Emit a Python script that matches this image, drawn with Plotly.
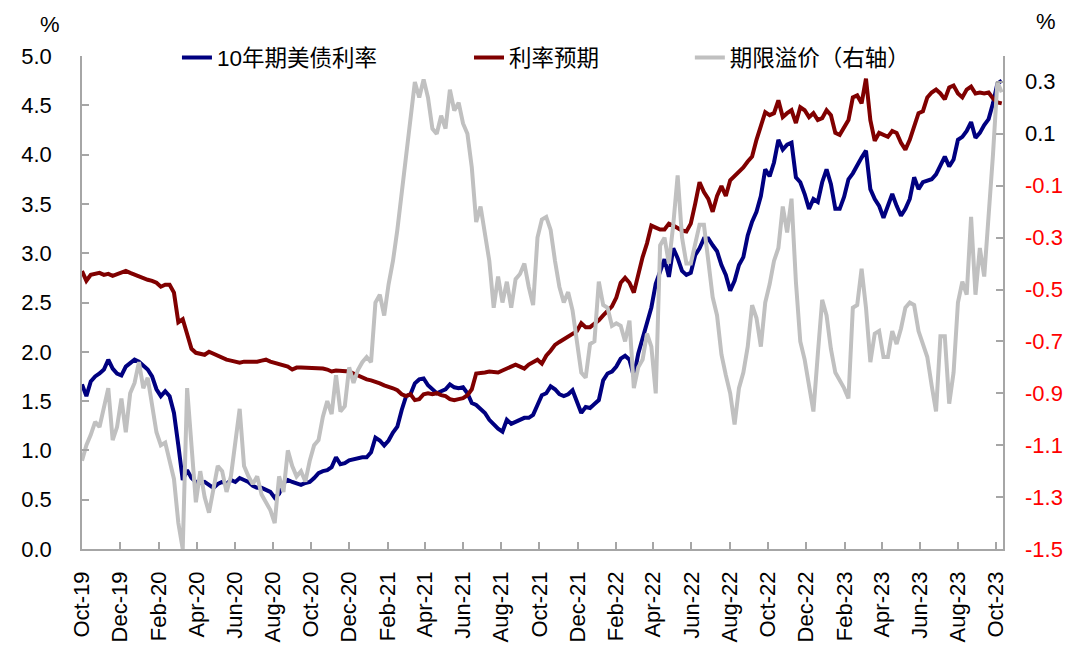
import pandas as pd
import plotly.graph_objects as go

# ---------------- data (weekly) ----------------
DATES = pd.date_range("2019-10-01", periods=211, freq="7D")

UST10Y = [
    1.67, 1.55, 1.70, 1.75, 1.78, 1.82, 1.92, 1.83, 1.78, 1.76,
    1.85, 1.88, 1.92, 1.90, 1.86, 1.82, 1.75, 1.62, 1.55, 1.60,
    1.55, 1.38, 1.05, 0.70, 0.80, 0.72, 0.68, 0.67, 0.68, 0.65,
    0.62, 0.66, 0.68, 0.66, 0.70, 0.68, 0.72, 0.70, 0.68, 0.64,
    0.62, 0.62, 0.60, 0.58, 0.52, 0.56, 0.67, 0.70, 0.68, 0.66,
    0.65, 0.67, 0.68, 0.72, 0.77, 0.79, 0.80, 0.83, 0.93, 0.86,
    0.87, 0.90, 0.91, 0.93, 0.93, 0.93, 0.98, 1.13, 1.10, 1.05,
    1.10, 1.18, 1.24, 1.41, 1.55, 1.57, 1.68, 1.72, 1.73, 1.66,
    1.62, 1.58, 1.60, 1.62, 1.67, 1.64, 1.63, 1.64, 1.58, 1.48,
    1.46, 1.42, 1.38, 1.31, 1.26, 1.22, 1.19, 1.31, 1.27, 1.29,
    1.31, 1.33, 1.33, 1.36, 1.46, 1.56, 1.58, 1.65, 1.62, 1.57,
    1.55, 1.57, 1.61, 1.48, 1.38, 1.44, 1.43, 1.47, 1.51, 1.71,
    1.78, 1.80, 1.85, 1.93, 1.96, 1.92, 1.75, 1.98, 2.15, 2.30,
    2.45, 2.69, 2.82, 2.94, 2.76, 3.05, 2.95, 2.82, 2.78, 2.80,
    2.98, 3.05, 3.15, 3.15, 3.08, 3.02, 2.88, 2.78, 2.62, 2.72,
    2.88, 2.96, 3.18, 3.32, 3.42, 3.58, 3.85, 3.78, 3.92, 4.15,
    4.05, 4.10, 4.12, 3.77, 3.72, 3.60, 3.45, 3.55, 3.52, 3.72,
    3.85, 3.70, 3.45, 3.45, 3.57, 3.75, 3.81, 3.90, 3.97, 4.04,
    3.65, 3.55, 3.48, 3.36, 3.48, 3.60, 3.48, 3.38, 3.45, 3.55,
    3.77, 3.65, 3.72, 3.74, 3.75, 3.80, 3.88, 3.98, 3.88, 3.95,
    4.15, 4.18, 4.24, 4.33, 4.17, 4.22, 4.30, 4.36, 4.52, 4.72,
    4.75,
]

RATE_EXPECTATION = [
    2.82, 2.72, 2.78, 2.79, 2.80, 2.78, 2.79, 2.77, 2.79, 2.80,
    2.82, 2.80, 2.78, 2.76, 2.74, 2.73, 2.72, 2.70, 2.66, 2.68,
    2.68, 2.60, 2.30, 2.33, 2.18, 2.03, 1.99, 1.98, 1.97, 2.00,
    1.98, 1.95, 1.93, 1.92, 1.91, 1.90, 1.89, 1.90, 1.90, 1.89,
    1.90, 1.91, 1.92, 1.90, 1.89, 1.88, 1.87, 1.85, 1.82, 1.84,
    1.84, 1.84, 1.84, 1.84, 1.84, 1.83, 1.82, 1.80, 1.81, 1.81,
    1.80, 1.80, 1.78, 1.76, 1.73, 1.72, 1.71, 1.70, 1.68, 1.66,
    1.65, 1.63, 1.61, 1.57, 1.55, 1.57, 1.51, 1.52, 1.57, 1.58,
    1.57, 1.58, 1.56, 1.55, 1.52, 1.51, 1.52, 1.53, 1.56, 1.62,
    1.78, 1.78, 1.79, 1.80, 1.80, 1.79, 1.81, 1.83, 1.86, 1.87,
    1.85, 1.83, 1.87, 1.90, 1.92, 1.88, 1.96, 2.01, 2.07, 2.10,
    2.13, 2.16, 2.18, 2.21, 2.29, 2.25, 2.25, 2.28, 2.32, 2.37,
    2.42, 2.46, 2.55, 2.70, 2.75, 2.70, 2.60, 2.80, 2.96, 3.10,
    3.28, 3.26, 3.24, 3.24, 3.30, 3.28, 3.25, 3.23, 3.22, 3.30,
    3.50, 3.72, 3.62, 3.55, 3.42, 3.58, 3.68, 3.58, 3.74, 3.78,
    3.82, 3.87, 3.93, 3.98, 4.15, 4.28, 4.43, 4.40, 4.42, 4.55,
    4.38, 4.42, 4.45, 4.32, 4.48, 4.45, 4.38, 4.42, 4.35, 4.37,
    4.45, 4.40, 4.22, 4.20, 4.28, 4.35, 4.58, 4.60, 4.52, 4.77,
    4.35, 4.14, 4.22, 4.20, 4.18, 4.24, 4.22, 4.12, 4.05, 4.15,
    4.30, 4.42, 4.44, 4.58, 4.63, 4.66, 4.62, 4.56, 4.68, 4.70,
    4.62, 4.58, 4.66, 4.69, 4.62, 4.63, 4.62, 4.63, 4.57, 4.53,
    4.52,
]

TERM_PREMIUM = [
    -1.16, -1.10, -1.06, -1.01, -1.03, -0.96, -0.88, -1.08, -1.03, -0.92,
    -1.05, -0.90, -0.86, -0.78, -0.88, -0.84, -0.95, -1.05, -1.10, -1.09,
    -1.16, -1.23, -1.40, -1.50, -0.88, -1.12, -1.32, -1.20, -1.30, -1.36,
    -1.26, -1.18, -1.20, -1.28, -1.22, -1.10, -0.96, -1.18, -1.22, -1.25,
    -1.22, -1.29, -1.32, -1.35, -1.40, -1.22, -1.28, -1.12, -1.18, -1.22,
    -1.20, -1.24, -1.16, -1.10, -1.08, -0.99, -0.93, -0.98, -0.83, -0.97,
    -0.95, -0.80, -0.86, -0.81, -0.78, -0.76, -0.78, -0.55, -0.52, -0.60,
    -0.48, -0.39, -0.27, -0.12, 0.02, 0.15, 0.30, 0.24, 0.31, 0.24,
    0.12, 0.10, 0.17, 0.12, 0.27, 0.19, 0.22, 0.14, 0.10, -0.03,
    -0.24, -0.18, -0.29, -0.39, -0.57, -0.45, -0.55, -0.47, -0.57, -0.46,
    -0.44, -0.40, -0.49, -0.56, -0.30, -0.23, -0.22, -0.27, -0.39, -0.49,
    -0.55, -0.51, -0.58, -0.70, -0.82, -0.84, -0.71, -0.70, -0.47, -0.56,
    -0.57, -0.64, -0.63, -0.64, -0.70, -0.62, -0.88, -0.80, -0.77, -0.67,
    -0.72, -0.90, -0.33, -0.30, -0.40, -0.25, -0.06, -0.30, -0.40, -0.40,
    -0.33, -0.25, -0.25, -0.40, -0.53, -0.60, -0.75, -0.83, -0.90, -1.02,
    -0.88, -0.82, -0.72, -0.56, -0.61, -0.72, -0.55, -0.48, -0.39, -0.34,
    -0.18, -0.28, -0.15, -0.47, -0.70, -0.77, -0.86, -0.97, -0.75, -0.54,
    -0.60, -0.73, -0.82, -0.85, -0.88, -0.92, -0.57, -0.56, -0.42, -0.57,
    -0.78, -0.67, -0.66, -0.76, -0.76, -0.66, -0.71, -0.65, -0.57, -0.55,
    -0.56, -0.66, -0.71, -0.76, -0.87, -0.97, -0.68, -0.68, -0.94, -0.82,
    -0.55, -0.47, -0.52, -0.22, -0.52, -0.34, -0.45, -0.23, 0.02, 0.30,
    0.26,
]

SERIES_NAMES = ["10年期美债利率", "利率预期", "期限溢价（右轴）"]

X_TICKS = pd.date_range("2019-10-01", "2023-10-01", freq="2MS")
X_TICK_LABELS = [d.strftime("%b-%y") for d in X_TICKS]
LEFT_TICKS = [0.0, 0.5, 1.0, 1.5, 2.0, 2.5, 3.0, 3.5, 4.0, 4.5, 5.0]
RIGHT_TICKS = [-1.5, -1.3, -1.1, -0.9, -0.7, -0.5, -0.3, -0.1, 0.1, 0.3]

# ---------------- styling ----------------
FONT = "Arial, 'Liberation Sans', 'Noto Sans CJK SC', sans-serif"
AXIS_COLOR = "#A6A6A6"
BLUE = "#000080"
RED = "#800000"
GRAY = "#C0C0C0"

fig = go.Figure()
fig.add_trace(go.Scatter(x=DATES, y=UST10Y, name=SERIES_NAMES[0], mode="lines",
                         line=dict(color=BLUE, width=4), legend="legend"))
fig.add_trace(go.Scatter(x=DATES, y=RATE_EXPECTATION, name=SERIES_NAMES[1], mode="lines",
                         line=dict(color=RED, width=4), legend="legend2"))
fig.add_trace(go.Scatter(x=DATES, y=TERM_PREMIUM, name=SERIES_NAMES[2], mode="lines",
                         line=dict(color=GRAY, width=4), yaxis="y2", legend="legend3"))

axis_common = dict(showline=True, linecolor=AXIS_COLOR, linewidth=1.5,
                   ticks="inside", ticklen=7, tickcolor=AXIS_COLOR, tickwidth=1.5,
                   showgrid=False, zeroline=False, automargin=False,
                   tickfont=dict(family=FONT, size=22, color="#000000"))

legend_common = dict(orientation="h", yanchor="middle", y=0.996, xanchor="left",
                     bgcolor="rgba(0,0,0,0)", borderwidth=0,
                     font=dict(family=FONT, size=22.5, color="#000000"))

# right-axis tick labels: positive black, negative red (left aligned as in the source)
annotations = [
    dict(text=f"{v:.1f}", x=1, y=v, xref="paper", yref="y2", showarrow=False,
         xanchor="left", yanchor="middle", xshift=20,
         font=dict(family=FONT, size=22, color="#FF0000" if v < 0 else "#000000"))
    for v in RIGHT_TICKS
]
annotations += [
    dict(text="%", x=-0.035, y=1.063, xref="paper", yref="paper", showarrow=False,
         xanchor="center", yanchor="middle", font=dict(family=FONT, size=22)),
    dict(text="%", x=1.047, y=1.069, xref="paper", yref="paper", showarrow=False,
         xanchor="center", yanchor="middle", font=dict(family=FONT, size=22)),
]

fig.update_layout(
    template="none",
    width=1072, height=645,
    margin=dict(l=74, r=77, t=48, b=104, autoexpand=False),
    paper_bgcolor="white", plot_bgcolor="white",
    font=dict(family=FONT, size=22, color="#000000"),
    xaxis=dict(range=["2019-10-01", "2023-10-12"], tickvals=X_TICKS, ticktext=X_TICK_LABELS,
               tickangle=-90, ticklabelstandoff=12, **axis_common),
    yaxis=dict(range=[0, 5], tickvals=LEFT_TICKS, ticktext=[f"{v:.1f}" for v in LEFT_TICKS],
               ticklabelstandoff=24, **axis_common),
    yaxis2=dict(range=[-1.5, 0.4], tickvals=RIGHT_TICKS, showticklabels=False,
                overlaying="y", side="right", anchor="x", **axis_common),
    legend=dict(x=0.1031, **legend_common),
    legend2=dict(x=0.4202, **legend_common),
    legend3=dict(x=0.660, **legend_common),
    showlegend=True,
    annotations=annotations,
)

fig.write_html("out.html")
